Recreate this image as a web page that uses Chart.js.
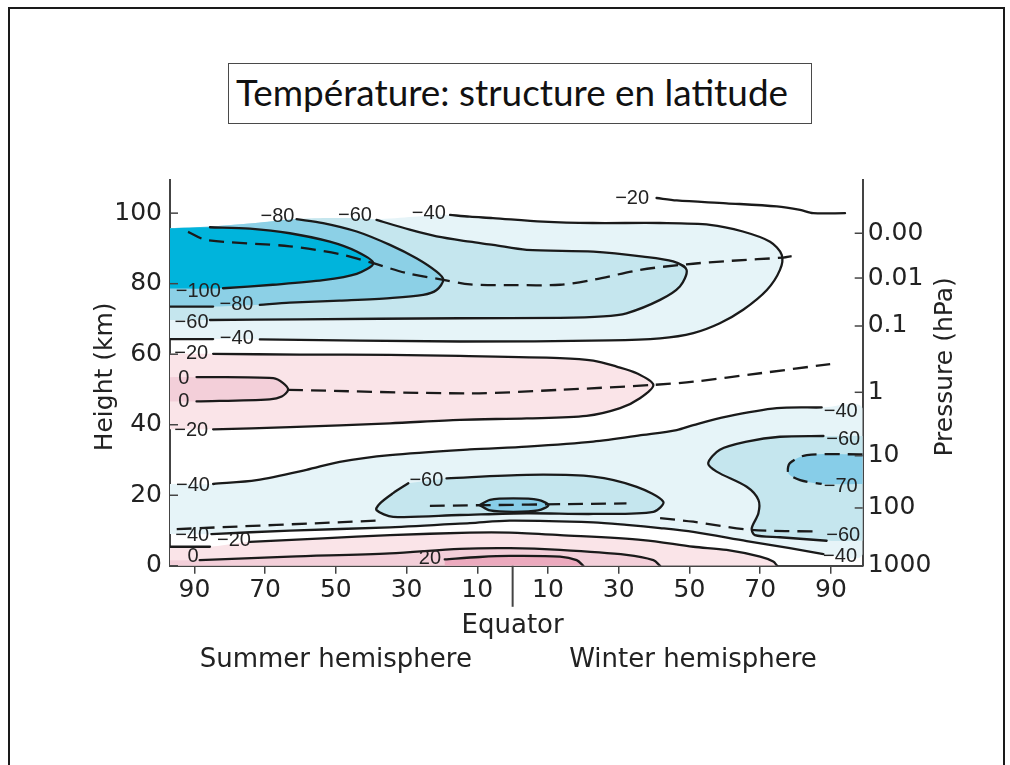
<!DOCTYPE html>
<html lang="fr">
<head>
<meta charset="utf-8">
<title>Température: structure en latitude</title>
<script src="https://cdn.jsdelivr.net/npm/chart.js@4.4.1/dist/chart.umd.min.js"></script>
<style>
  html, body { margin:0; padding:0; background:#fff; }
  body { width:1010px; height:765px; overflow:hidden; position:relative; }
  #c { position:absolute; left:0; top:0; }
  #frame { position:absolute; left:8px; top:7px; width:997px; height:820px; border:2px solid #1a1a1a; box-sizing:border-box; pointer-events:none; }
  #tbox { position:absolute; left:228px; top:63px; width:584px; height:61px; border:1.5px solid #4a4a4a; box-sizing:border-box; background:#fff; }
  #ttext { position:absolute; left:236px; top:74px; font-family:Lato, 'Open Sans', sans-serif; font-size:36px; line-height:36px; white-space:nowrap; color:#111; transform-origin:0 50%; }
</style>
</head>
<body>
<canvas id="c" width="1010" height="765"></canvas>
<div id="frame"></div>
<div id="tbox"></div>
<div id="ttext">Température: structure en latitude</div>
<script>
// ---------- axes (latitude: summer hemisphere negative, winter positive; height in km) ----------
const X_TICKS = [-90, -70, -50, -30, -10, 10, 30, 50, 70, 90];
const Y_TICKS = [0, 20, 40, 60, 80, 100];
const P_HEIGHTS = [0, 16.4, 31.2, 49.2, 68.0, 81.6, 94.3];
const P_LABELS = ['1000', '100', '10', '1', '0.1', '0.01', '0.00'];
const X_MIN = -96.9, X_MAX = 99.0, Y_MIN = 0, Y_MAX = 109.4;

// ---------- upper edge of the data domain ----------
const TOP_EDGE = [[-96.9,95.7],[-85.6,96.2],[-72,97.3],[-61.1,98.3],[-50,98.6],[-38.5,98.3],[-28,99.0],[-17.7,99.5]];

// ---------- mesosphere isotherms ----------
const C_M100 = [[-85.6,96.0],[-74.3,95.6],[-63.0,94.3],[-51.7,91.9],[-44.1,89.1],[-39.4,85.8],[-44.1,82.8],[-53.6,81.0],[-67.8,79.7],[-81.9,78.7]];
const C_M80 = [[-61.1,98.3],[-53.6,97.2],[-44.1,94.8],[-34.7,91.0],[-27.2,87.2],[-21.5,83.4],[-19.6,81.1],[-21.5,78.2],[-25.3,76.8],[-34.7,75.9],[-48.9,75.2],[-63.0,74.6],[-71.5,74.0]];
const C_M80_STUB = [[-96.9,73.5],[-84.7,73.5]];
const C_M60 = [[-38.5,98.1],[-29.1,95.3],[-21.5,93.4],[-12.1,91.9],[-5.5,91.0],[4.0,89.6],[22.8,89.1],[36.9,87.7],[45.4,86.3],[49.2,83.9],[47.3,79.2],[41.7,75.4],[32.2,71.6],[25.6,70.7],[13.4,70.3],[-14.9,70.2],[-60.2,69.9],[-85.6,69.7]];
const C_M40 = [[-17.7,99.5],[-12.1,99.0],[-5.6,98.6],[8.6,97.6],[22.7,97.2],[41.7,97.2],[55.8,96.7],[65.1,94.8],[72.8,91.9],[76.1,88.2],[75.6,83.9],[71.9,78.2],[65.2,72.6],[58.6,68.8],[51.1,66.0],[41.7,64.5],[27.5,63.9],[-14.9,63.6],[-71.5,64.2]];
const C_M40_STUB = [[-96.9,64.3],[-84.7,64.3]];
const C_M20_TOP = [[40.7,104.3],[46.4,103.6],[60.5,102.8],[74.7,101.9],[81.3,100.9],[85.0,100.0],[94.0,100.0]];
const D_MESO = [[-91.8,94.7],[-86.6,92.4],[-63,90.6],[-49,88.4],[-39.4,85.8],[-30,83.0],[-19.6,81.1],[-12,79.8],[0,79.6],[13.4,79.7],[22.8,81.1],[36,83.9],[49.2,85.5],[62,86.5],[76.5,87.4],[78.9,87.8]];

// ---------- stratosphere ----------
const C_S20 = [[-84.7,60.1],[-60.2,59.9],[-34.7,59.8],[-14.9,59.5],[13.4,58.9],[22.8,58.2],[29.4,56.5],[35.1,54.6],[39.8,51.3],[36.0,47.5],[30.4,44.7],[20.9,42.5],[4.0,41.8],[-14.9,41.4],[-34.7,40.4],[-63.0,39.3],[-84.7,38.7]];
const C_S0 = [[-89.4,53.5],[-67.7,53.2],[-64.9,51.8],[-63.5,49.9],[-65.3,48.0],[-68.7,47.2],[-89.4,46.6]];
const D_STRAT = [[-63.5,49.9],[-12.1,48.9],[13.4,49.9],[39.8,51.3],[51.1,52.2],[70.0,54.6],[89.8,57.2]];
const C_L40_UP = [[-84.7,23.2],[-72.4,24.3],[-58.3,27.2],[-48.9,29.5],[-34.7,31.4],[-12.1,33.0],[4.0,33.8],[22.8,35.2],[36.9,37.1],[46.4,38.5],[51.1,39.9],[60.5,42.3],[74.7,44.7],[87.4,44.9]];
const C_L40_LOW = [[87.9,3.3],[78.4,5.0],[66.2,7.0],[51.1,9.6],[41.7,10.7],[32.2,11.6],[22.8,12.3],[-0.8,12.8],[-12.1,12.1],[-34.7,10.9],[-63,10.0],[-85.2,9.0]];
const C_EQ60 = [[-18.7,24.8],[4.0,25.8],[22.8,25.3],[35.1,22.4],[42.6,18.2],[39.8,15.3],[22.8,14.7],[4.0,14.9],[-14.9,14.4],[-33.8,13.9],[-38.5,15.8],[-37.5,17.7],[-33.8,20.6],[-29.5,23.4]];
const C_EQ80 = [[-9.3,17.2],[-6.4,18.7],[0.2,19.1],[7.2,18.7],[10.1,17.2],[7.2,15.7],[0.2,15.3],[-6.4,15.7],[-9.3,17.2]];
const C_R60 = [[87.9,36.8],[75.6,36.6],[66.2,35.2],[58.6,32.9],[55.3,29.1],[57.7,26.7],[66.2,22.4],[69.5,18.7],[69.5,14.9],[67.6,10.6],[68.5,8.7],[75.6,8.1],[88.8,7.1]];
const D_R70 = [[99.0,31.6],[83.2,31.4],[78.4,29.1],[78.0,26.2],[81.3,24.3],[87.4,23.2]];
const D_TROP_L = [[-95,10.4],[-38.5,12.8]];
const D_TROP_C = [[-23.4,17.0],[32.2,17.7]];
const D_TROP_R = [[41.7,13.5],[51.1,12.5],[67.1,10.2],[86.9,9.7]];

// ---------- troposphere ----------
const C_T20_STUB = [[-96.9,5.4],[-85.6,5.4]];
const C_T20 = [[-74.3,6.8],[-53.7,7.8],[-34.7,8.7],[-12.1,9.4],[-0.8,9.4],[13.4,8.7],[36.9,7.3],[51.1,5.4],[60.5,4.5],[70.0,2.6],[73.7,1.2],[74.8,0]];
const C_T0 = [[-88.5,1.6],[-63,2.6],[-34.7,3.5],[-14.9,4.8],[-0.8,5.0],[13.4,4.5],[32.2,3.1],[39.8,1.6],[41.7,0]];
const C_T20P = [[-19.2,1.8],[-9.3,2.5],[-0.8,2.8],[13.4,2.6],[18.1,1.6],[20.0,0]];

// ---------- isotherm labels (text, latitude, height) ----------
const LABELS = [
  ['−80',-66.5,99.0],['−60',-44.6,99.2],['−40',-23.7,99.9],['−20',33.8,104.3],
  ['−100',-88.9,77.8],['−80',-78.1,74.0],['−60',-90.8,68.9],['−40',-78.0,64.4],
  ['−20',-90.9,60.1],['0',-93.0,53.2],['0',-93.0,46.5],['−20',-90.9,38.5],
  ['−40',-90.4,22.9],['−60',-24.4,24.3],['−40',92.8,43.7],['−60',93.5,35.7],
  ['−70',92.8,22.4],['−60',93.5,8.7],['−40',92.6,2.6],
  ['−40',-90.6,8.5],['−20',-78.8,7.3],['0',-90.4,2.6],['20',-23.4,2.1]
];

// ---------- build datasets ----------
const FONT = "'DejaVu Sans', sans-serif";
const LFONT = "'Liberation Sans', Arial, sans-serif";
const pts = a => a.map(([x, y]) => ({x, y}));
const rev = a => a.slice().reverse();
const topUntil = c => TOP_EDGE.filter(p => p[0] < c[0][0] - 0.5);

const FILLS = [
  ['#e6f4f8', [...topUntil(C_M40), ...C_M40, ...rev(C_M40_STUB)]],
  ['#c5e6ee', [...topUntil(C_M60), ...C_M60, [X_MIN, 69.7]]],
  ['#8cd0e6', [...topUntil(C_M80), ...C_M80, ...rev(C_M80_STUB)]],
  ['#00b4dc', [...topUntil(C_M100), ...C_M100, [X_MIN, 78.6]]],
  ['#fae4e8', [[X_MIN, 60.1], ...C_S20, [X_MIN, 38.7]]],
  ['#f3cfd9', [[X_MIN, 53.5], ...C_S0, [X_MIN, 46.6]]],
  ['#e6f4f8', [[X_MIN, 23.2], ...C_L40_UP, [X_MAX, 44.6], [X_MAX, 3.3], ...C_L40_LOW, [X_MIN, 9.0]]],
  ['#c5e6ee', [[X_MAX, 36.8], ...C_R60, [X_MAX, 7.1]]],
  ['#87cde8', [...D_R70, [X_MAX, 23.2]]],
  ['#c5e6ee', C_EQ60],
  ['#87cde8', C_EQ80],
  ['#fae4e8', [...C_T20_STUB, ...C_T20, [X_MIN, 0]]],
  ['#f3cfd9', [[X_MIN, 1.6], ...C_T0, [X_MIN, 0]]],
  ['#ecaabe', [...C_T20P, [C_T20P[0][0], 0]]]
];
const SOLID = [C_M100, C_M80, C_M80_STUB, C_M60, C_M40, C_M40_STUB, C_M20_TOP, C_S20, C_S0,
  C_L40_UP, C_L40_LOW, C_EQ60, C_EQ80, C_R60, C_T20_STUB, C_T20, C_T0, C_T20P];
const DASHED = [D_MESO, D_STRAT, D_R70, D_TROP_L, D_TROP_C, D_TROP_R];

const TENSION = 0.3;
const datasets = [];
FILLS.forEach(([color, poly], i) => datasets.push({
  data: pts(poly), showLine: true, fill: 'shape', backgroundColor: color,
  borderColor: 'rgba(0,0,0,0)', borderWidth: 0, pointRadius: 0, tension: TENSION,
  order: 1000 - i, xAxisID: 'x', yAxisID: 'y'
}));
SOLID.forEach(c => datasets.push({
  data: pts(c), showLine: true, fill: false, borderColor: '#1a1a1a', borderWidth: 2.3,
  pointRadius: 0, tension: TENSION, order: 0, xAxisID: 'x', yAxisID: 'y', borderCapStyle: 'round'
}));
DASHED.forEach(c => datasets.push({
  data: pts(c), showLine: true, fill: false, borderColor: '#1a1a1a', borderWidth: 2.3,
  borderDash: [15, 8], pointRadius: 0, tension: TENSION, order: 0, xAxisID: 'x', yAxisID: 'y'
}));

const decor = {
  id: 'decor',
  afterDatasetsDraw(chart) {
    const {ctx, scales: {x, y}} = chart;
    ctx.save();
    ctx.font = `20px ${LFONT}`;
    ctx.fillStyle = '#222';
    ctx.textAlign = 'center';
    ctx.textBaseline = 'middle';
    LABELS.forEach(([t, lx, ly]) => ctx.fillText(t, x.getPixelForValue(lx), y.getPixelForValue(ly)));
    ctx.restore();
  },
  afterDraw(chart) {
    const {ctx, chartArea: a, scales: {x, y, yR}} = chart;
    ctx.save();
    ctx.strokeStyle = '#444';
    ctx.lineWidth = 1.5;
    const seg = (x1, y1, x2, y2) => { ctx.beginPath(); ctx.moveTo(x1, y1); ctx.lineTo(x2, y2); ctx.stroke(); };
    Y_TICKS.forEach(v => { const p = y.getPixelForValue(v); seg(a.left, p, a.left + 8, p); });
    P_HEIGHTS.forEach(v => { const p = yR.getPixelForValue(v); seg(a.right - 8, p, a.right, p); });
    const ex = x.getPixelForValue(0);
    ctx.lineWidth = 2;
    seg(ex, a.bottom, ex, a.bottom + 41);
    ctx.fillStyle = '#222';
    ctx.font = `26px ${FONT}`;
    ctx.textAlign = 'center';
    ctx.textBaseline = 'alphabetic';
    ctx.fillText('Equator', ex, a.bottom + 67.5);
    ctx.fillText('Summer hemisphere', x.getPixelForValue(-50), a.bottom + 101);
    ctx.fillText('Winter hemisphere', x.getPixelForValue(51), a.bottom + 101);
    ctx.font = `25px ${FONT}`;
    const mid = (a.top + a.bottom) / 2;
    ctx.save(); ctx.translate(a.left - 58, mid + 4); ctx.rotate(-Math.PI / 2); ctx.fillText('Height (km)', 0, 0); ctx.restore();
    ctx.save(); ctx.translate(a.right + 89, mid - 6); ctx.rotate(-Math.PI / 2); ctx.fillText('Pressure (hPa)', 0, 0); ctx.restore();
    ctx.restore();
  }
};

const tickFont = {family: FONT, size: 25};
new Chart(document.getElementById('c'), {
  type: 'scatter',
  data: {datasets},
  options: {
    responsive: false, animation: false, devicePixelRatio: 1,
    layout: {padding: {left: 86, right: 0, top: 180, bottom: 0}},
    plugins: {legend: {display: false}, tooltip: {enabled: false}, title: {display: false}},
    scales: {
      x: {
        type: 'linear', position: 'bottom', min: X_MIN, max: X_MAX,
        afterBuildTicks: s => { s.ticks = X_TICKS.map(v => ({value: v})); },
        afterFit: s => { s.height = 765 - 565.8; },
        ticks: {autoSkip: false, maxRotation: 0, padding: 2, color: '#222', font: tickFont, callback: v => String(Math.abs(v))},
        grid: {display: true, drawOnChartArea: false, drawTicks: true, tickLength: 8, color: '#444', lineWidth: 1.5},
        border: {display: true, color: '#444', width: 2}
      },
      y: {
        type: 'linear', axis: 'y', position: 'left', min: Y_MIN, max: Y_MAX,
        afterBuildTicks: s => { s.ticks = Y_TICKS.map(v => ({value: v})); },
        afterFit: s => { s.width = 84; },
        ticks: {autoSkip: false, padding: 8, color: '#222', font: tickFont},
        grid: {display: false, drawTicks: false},
        border: {display: true, color: '#444', width: 2}
      },
      yR: {
        type: 'linear', axis: 'y', position: 'right', min: Y_MIN, max: Y_MAX,
        afterBuildTicks: s => { s.ticks = P_HEIGHTS.map(v => ({value: v})); },
        afterFit: s => { s.width = 1010 - 862.7; },
        ticks: {autoSkip: false, padding: 5, color: '#222', font: tickFont, callback: (v, i) => P_LABELS[i]},
        grid: {display: false, drawTicks: false},
        border: {display: true, color: '#444', width: 2}
      }
    }
  },
  plugins: [decor]
});

// fit the title text to the width of the original title line
const tt = document.getElementById('ttext');
const tw = tt.getBoundingClientRect().width;
tt.style.transform = `scaleX(${552 / tw})`;
</script>
</body>
</html>
